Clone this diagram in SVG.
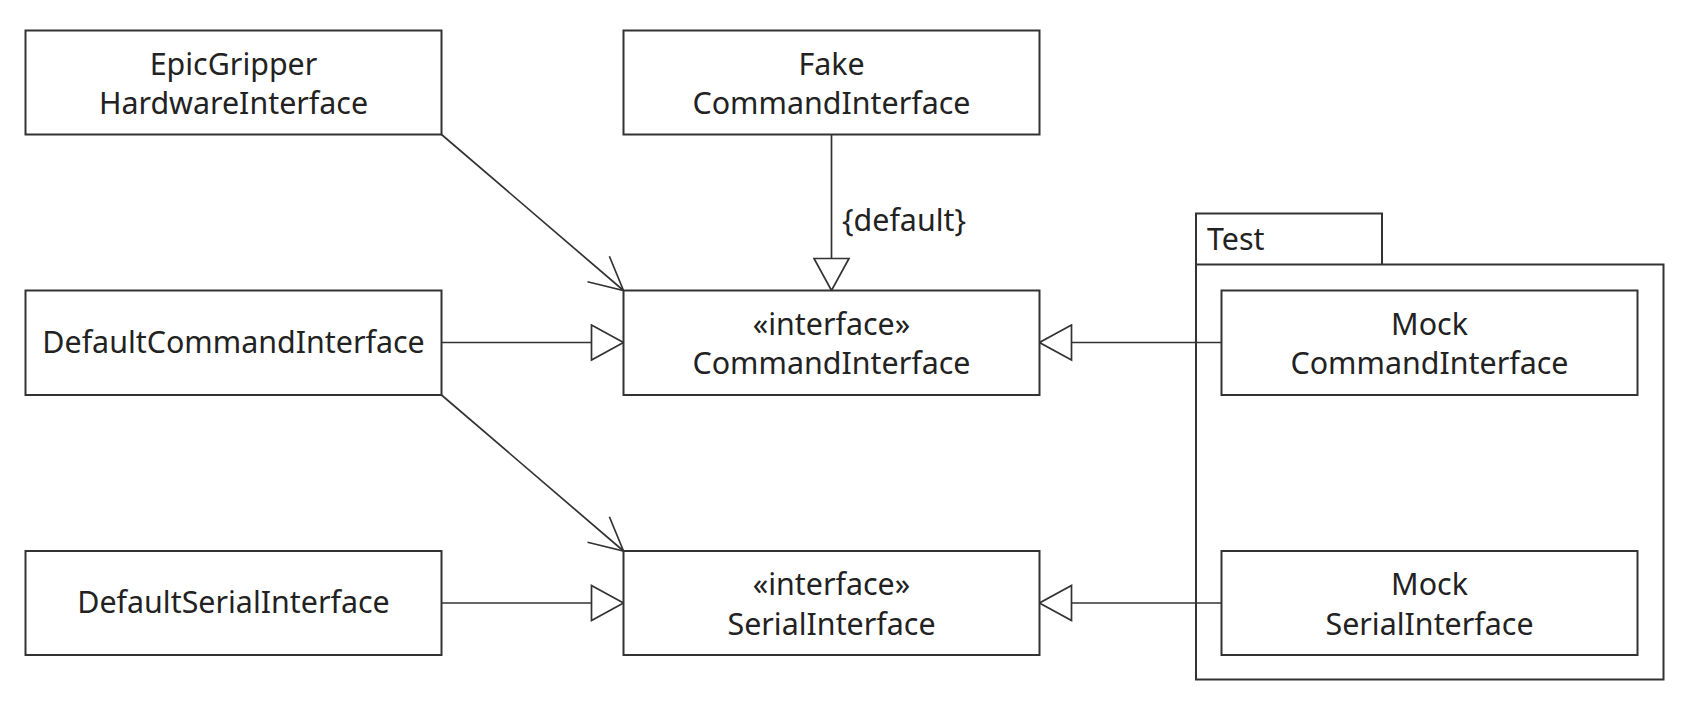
<svg xmlns="http://www.w3.org/2000/svg" width="1686" height="706" viewBox="0 0 1686 706">
<style>
.box{fill:#fff;stroke:#333;stroke-width:2}
.t{font-family:"Noto Sans","Open Sans",sans-serif;font-size:30.4px;fill:#222;text-anchor:middle}
.tl{font-family:"Noto Sans","Open Sans",sans-serif;font-size:30.4px;fill:#222}
.c{fill:none;stroke:#333;stroke-width:1.7}
</style>
<defs>
<marker id="gen" markerUnits="userSpaceOnUse" markerWidth="36" markerHeight="38" viewBox="0 0 36 38" refX="34" refY="19" orient="auto">
<path d="M2,1.5 L34,19 L2,36.5 Z" fill="#fff" stroke="#333" stroke-width="1.7"/>
</marker>
<marker id="dep" markerUnits="userSpaceOnUse" markerWidth="38" markerHeight="38" viewBox="0 0 38 38" refX="35" refY="19" orient="auto">
<path d="M2,2.2 L35,19 L2,35.8" fill="none" stroke="#333" stroke-width="1.7"/>
</marker>
</defs>
<rect width="1686" height="706" fill="#fff"/>

<g id="pkg-test">
<path class="box" d="M1196,264.5 L1196,213.5 L1382,213.5 L1382,264.5"/>
<rect class="box" x="1196" y="264.5" width="467.5" height="415"/>
<text class="tl" x="1207" y="250">Test</text>
</g>

<g id="connectors">
<line class="c" x1="441.5" y1="134.5" x2="623.5" y2="290.5" marker-end="url(#dep)"/>
<line class="c" x1="441.5" y1="395" x2="623.5" y2="551" marker-end="url(#dep)"/>
<line class="c" x1="831.5" y1="134.5" x2="831.5" y2="290.5" marker-end="url(#gen)"/>
<text class="tl" x="842" y="231">{default}</text>
<line class="c" x1="441.5" y1="342.5" x2="623.5" y2="342.5" marker-end="url(#gen)"/>
<line class="c" x1="441.5" y1="603" x2="623.5" y2="603" marker-end="url(#gen)"/>
<line class="c" x1="1221.5" y1="342.5" x2="1039.5" y2="342.5" marker-end="url(#gen)"/>
<line class="c" x1="1221.5" y1="603" x2="1039.5" y2="603" marker-end="url(#gen)"/>
</g>

<g id="epicgripper">
<rect class="box" x="25.5" y="30.5" width="416" height="104"/>
<text class="t" x="233.5" y="75">EpicGripper</text>
<text class="t" x="233.5" y="114">HardwareInterface</text>
</g>
<g id="fake">
<rect class="box" x="623.5" y="30.5" width="416" height="104"/>
<text class="t" x="831.5" y="75">Fake</text>
<text class="t" x="831.5" y="114">CommandInterface</text>
</g>
<g id="defaultcommand">
<rect class="box" x="25.5" y="290.5" width="416" height="104.5"/>
<text class="t" x="233.5" y="352.5">DefaultCommandInterface</text>
</g>
<g id="commandinterface">
<rect class="box" x="623.5" y="290.5" width="416" height="104.5"/>
<text class="t" x="831.5" y="334.5">«interface»</text>
<text class="t" x="831.5" y="374">CommandInterface</text>
</g>
<g id="mockcommand">
<rect class="box" x="1221.5" y="290.5" width="416" height="104.5"/>
<text class="t" x="1429.5" y="334.5">Mock</text>
<text class="t" x="1429.5" y="374">CommandInterface</text>
</g>
<g id="defaultserial">
<rect class="box" x="25.5" y="551" width="416" height="104"/>
<text class="t" x="233.5" y="613">DefaultSerialInterface</text>
</g>
<g id="serialinterface">
<rect class="box" x="623.5" y="551" width="416" height="104"/>
<text class="t" x="831.5" y="595">«interface»</text>
<text class="t" x="831.5" y="634.5">SerialInterface</text>
</g>
<g id="mockserial">
<rect class="box" x="1221.5" y="551" width="416" height="104"/>
<text class="t" x="1429.5" y="595">Mock</text>
<text class="t" x="1429.5" y="634.5">SerialInterface</text>
</g>
</svg>
